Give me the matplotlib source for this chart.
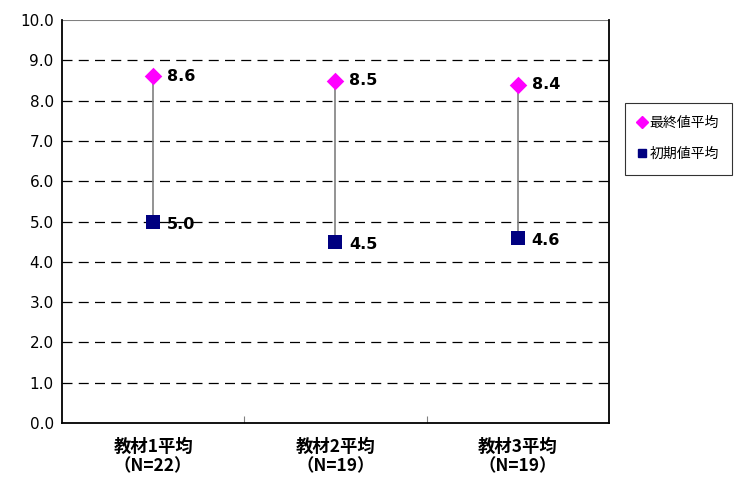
import matplotlib
matplotlib.use("Agg")
import matplotlib.pyplot as plt
from matplotlib.lines import Line2D

plt.rcParams['font.family'] = ['Noto Sans CJK JP', 'DejaVu Sans']

categories = ["教材1平均\n（N=22）", "教材2平均\n（N=19）", "教材3平均\n（N=19）"]
final_avg = [8.6, 8.5, 8.4]
initial_avg = [5.0, 4.5, 4.6]
yticks = [0.0, 1.0, 2.0, 3.0, 4.0, 5.0, 6.0, 7.0, 8.0, 9.0, 10.0]

fig = plt.figure(figsize=(7.34, 4.78), dpi=100)
ax = fig.add_axes([0.0845, 0.115, 0.745, 0.843])

x = list(range(len(categories)))

# grid lines
for yv in yticks[1:-1]:
    ax.axhline(yv, color='black', lw=0.9, ls=(0, (8, 5)), zorder=1)
ax.axhline(10.0, color='#808080', lw=1.5, zorder=1)

# high-low connectors
for xi, lo, hi in zip(x, initial_avg, final_avg):
    ax.plot([xi, xi], [lo, hi], color='#808080', lw=1.2, zorder=2)

ax.scatter(x, final_avg, marker='D', s=80, color='#FF00FF', zorder=3, linewidths=0)
ax.scatter(x, initial_avg, marker='s', s=100, color='#000080', zorder=3, linewidths=0)

for xi, v in zip(x, final_avg):
    ax.annotate(f"{v:.1f}", (xi, v), xytext=(10, 0), textcoords='offset points',
                va='center', ha='left', fontsize=11.5, fontweight='bold', family='DejaVu Sans')
for xi, v in zip(x, initial_avg):
    ax.annotate(f"{v:.1f}", (xi, v), xytext=(10, -2), textcoords='offset points',
                va='center', ha='left', fontsize=11.5, fontweight='bold', family='DejaVu Sans')

ax.set_xlim(-0.5, 2.5)
ax.set_ylim(0, 10)
ax.set_yticks(yticks)
ax.set_yticklabels([f"{v:.1f}" for v in yticks], fontsize=11, family='DejaVu Sans')
ax.tick_params(axis='y', length=0, pad=6)

ax.set_xticks([0.5, 1.5], minor=True)
ax.set_xticks(x)
ax.set_xticklabels(categories, fontsize=12.5, fontweight='bold', linespacing=1.05)
ax.tick_params(axis='x', which='major', length=0, pad=11)
ax.tick_params(axis='x', which='minor', direction='in', length=5, width=0.8, color='#808080')

for side in ['left', 'right', 'bottom']:
    ax.spines[side].set_color('black')
    ax.spines[side].set_linewidth(1.3)
ax.spines['top'].set_visible(False)

handles = [
    Line2D([], [], marker='D', color='#FF00FF', ls='none', markersize=6),
    Line2D([], [], marker='s', color='#000080', ls='none', markersize=6),
]
leg = fig.legend(handles, ['最終値平均', '初期値平均'], loc='upper left',
                 bbox_to_anchor=(0.851, 0.785), frameon=True, fancybox=False,
                 edgecolor='black', fontsize=10, handlelength=0.6, handletextpad=0.25,
                 labelspacing=1.25, borderpad=0.95, borderaxespad=0)
leg.get_frame().set_linewidth(0.8)

fig.savefig("out.png", dpi=100, facecolor='white')
